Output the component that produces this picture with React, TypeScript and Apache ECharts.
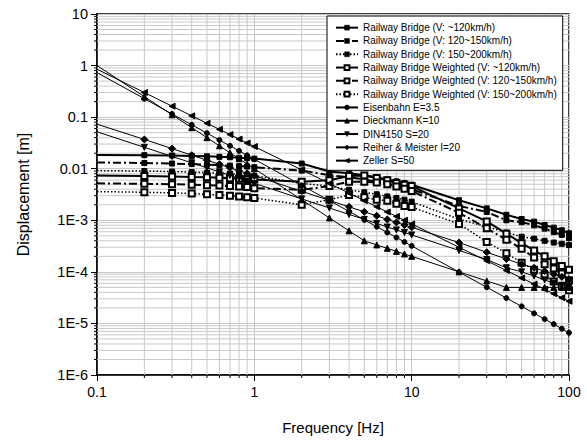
import React, { useEffect, useRef } from "react";
import * as echarts from "echarts";

const freqs = [0.1, 0.2, 0.3, 0.4, 0.5, 0.6, 0.7, 0.8, 0.9, 1, 2, 3, 4, 5, 6, 7, 8, 9, 10, 20, 30, 40, 50, 60, 70, 80, 90, 100];

const bridge120 = [0.0185, 0.0183, 0.018, 0.0177, 0.0174, 0.017, 0.0167, 0.0163, 0.016, 0.0157, 0.0126, 0.0088, 0.0082, 0.0075, 0.0068, 0.0062, 0.0057, 0.0053, 0.0049, 0.00245, 0.0017, 0.00128, 0.00106, 0.00094, 0.00081, 0.00072, 0.00064, 0.00056];
const bridge150 = [0.0132, 0.0129, 0.0126, 0.0123, 0.012, 0.0117, 0.0115, 0.0112, 0.011, 0.0107, 0.0092, 0.0075, 0.0068, 0.0062, 0.0056, 0.0051, 0.0047, 0.0043, 0.004, 0.0019, 0.00145, 0.001, 0.00092, 0.0008, 0.00069, 0.00059, 0.00052, 0.00045];
const bridge200 = [0.0092, 0.009, 0.0088, 0.0086, 0.0084, 0.0082, 0.008, 0.0078, 0.0076, 0.0073, 0.0052, 0.0046, 0.0039, 0.0035, 0.0032, 0.0029, 0.0027, 0.0025, 0.0023, 0.00105, 0.00075, 0.00058, 0.00048, 0.00044, 0.0004, 0.00037, 0.00035, 0.00033];
const weighted120 = [0.0074, 0.0072, 0.0071, 0.0069, 0.0068, 0.0067, 0.0065, 0.0064, 0.0063, 0.0062, 0.0056, 0.006, 0.0072, 0.0074, 0.0066, 0.006, 0.0053, 0.0049, 0.0046, 0.0017, 0.00095, 0.00055, 0.00036, 0.00026, 0.0002, 0.00016, 0.00013, 0.00011];
const weighted150 = [0.0052, 0.0051, 0.005, 0.0049, 0.0048, 0.0047, 0.0046, 0.0045, 0.0044, 0.0042, 0.0039, 0.0046, 0.0056, 0.0056, 0.0054, 0.005, 0.0045, 0.0041, 0.0037, 0.0014, 0.0007, 0.00042, 0.00028, 0.00019, 0.00014, 0.000116, 0.000093, 0.000069];
const weighted200 = [0.0036, 0.0035, 0.0034, 0.0033, 0.0032, 0.0031, 0.003, 0.0029, 0.0028, 0.0027, 0.002, 0.0025, 0.0031, 0.0028, 0.0025, 0.0024, 0.0021, 0.0019, 0.0018, 0.00085, 0.00038, 0.00023, 0.00015, 0.00011, 0.000085, 0.000065, 0.000053, 0.000044];
const eisenbahn = [0.73, 0.228, 0.115, 0.0711, 0.0489, 0.036, 0.0278, 0.0222, 0.0182, 0.01525, 0.00476, 0.00241, 0.00149, 0.00102, 0.000752, 0.00058, 0.000464, 0.00038, 0.000319, 0.000099, 0.0000503, 0.000031, 0.0000214, 0.0000157, 0.0000121, 0.0000097, 0.0000079, 0.0000066];
const dieckmann = [1.0, 0.25, 0.111, 0.0625, 0.04, 0.0278, 0.0204, 0.0156, 0.0123, 0.01, 0.0025, 0.00111, 0.000625, 0.0004, 0.000333, 0.000286, 0.00025, 0.000222, 0.0002, 0.0001, 0.0000667, 0.00005, 0.00005, 0.00005, 0.00005, 0.00005, 0.00005, 0.00005];
const din4150 = [0.052, 0.026, 0.0173, 0.013, 0.0104, 0.0087, 0.0074, 0.0065, 0.0058, 0.0052, 0.0026, 0.00173, 0.0013, 0.00104, 0.00087, 0.00074, 0.00065, 0.00058, 0.00052, 0.00026, 0.000173, 0.00012, 0.0001, 0.000083, 0.00007, 0.00006, 0.000055, 0.00005];
const reiher = [0.073, 0.037, 0.0245, 0.0183, 0.0146, 0.0122, 0.0104, 0.0091, 0.0081, 0.0073, 0.00365, 0.00243, 0.00182, 0.00146, 0.00122, 0.00104, 0.00091, 0.00081, 0.00073, 0.00037, 0.00024, 0.000178, 0.00014, 0.00012, 0.000103, 0.00009, 0.00008, 0.000071];
const zeller = [0.85, 0.3, 0.163, 0.106, 0.076, 0.058, 0.046, 0.0376, 0.0315, 0.0269, 0.0095, 0.0052, 0.00336, 0.0024, 0.00183, 0.00145, 0.00119, 0.001, 0.00085, 0.0003, 0.000164, 0.000106, 0.000076, 0.000058, 0.000046, 0.0000376, 0.0000315, 0.0000269];

const seriesNames = [
  "Railway Bridge (V: ~120km/h)",
  "Railway Bridge (V: 120~150km/h)",
  "Railway Bridge (V: 150~200km/h)",
  "Railway Bridge Weighted (V: ~120km/h)",
  "Railway Bridge Weighted (V: 120~150km/h)",
  "Railway Bridge Weighted (V: 150~200km/h)",
  "Eisenbahn E=3.5",
  "Dieckmann K=10",
  "DIN4150 S=20",
  "Reiher & Meister I=20",
  "Zeller S=50",
];

const xTickLabels = ["0.1", "1", "10", "100"];
const yTickLabels = ["1E-6", "1E-5", "1E-4", "1E-3", "0.01", "0.1", "1", "10"];
const xDecades = [0.1, 1, 10];
const yDecades = [1e-6, 1e-5, 1e-4, 1e-3, 1e-2, 1e-1, 1];
const minorSteps = [2, 3, 4, 5, 6, 7, 8, 9];

const X_MIN = 0.1, X_MAX = 100, Y_MIN = 1e-6, Y_MAX = 10;
const FONT = "'Liberation Sans', Arial, sans-serif";

export default function App() {
  const ref = useRef<HTMLDivElement>(null);
  useEffect(() => {
    if (!ref.current) return;
    const chart = echarts.init(ref.current, null, { renderer: "svg" });
    const zip = (ys: number[]) =>
      freqs.map((f, i) => (i === 0 ? { value: [f, ys[i]], symbol: "none" } : [f, ys[i]]));

    const xMinor: number[] = [];
    xDecades.forEach((d) => minorSteps.forEach((m) => xMinor.push(+(d * m).toPrecision(3))));
    const yMinor: number[] = [];
    yDecades.forEach((d) => minorSteps.forEach((m) => yMinor.push(+(d * m).toPrecision(3))));
    const gridData = [
      ...xMinor.map((v) => [v, Y_MIN, 0]),
      ...yMinor.map((v) => [X_MIN, v, 1]),
    ];

    const gray = "#c8c8c8";
    const gridSeries: any = {
      type: "custom",
      silent: true,
      clip: false,
      z: 1,
      data: gridData,
      encode: { x: 0, y: 1 },
      renderItem: (params: any, api: any) => {
        const kind = api.value(2);
        if (kind === 0) {
          const x = api.value(0);
          const p0 = api.coord([x, Y_MIN]);
          const p1 = api.coord([x, Y_MAX]);
          return {
            type: "group",
            children: [
              { type: "line", shape: { x1: p0[0], y1: p0[1], x2: p1[0], y2: p1[1] }, style: { stroke: gray, lineWidth: 1 } },
              { type: "line", shape: { x1: p0[0], y1: p0[1], x2: p0[0], y2: p0[1] + 3 }, style: { stroke: "#000", lineWidth: 1 } },
            ],
          };
        }
        const y = api.value(1);
        const p0 = api.coord([X_MIN, y]);
        const p1 = api.coord([X_MAX, y]);
        return {
          type: "group",
          children: [
            { type: "line", shape: { x1: p0[0], y1: p0[1], x2: p1[0], y2: p1[1] }, style: { stroke: gray, lineWidth: 1 } },
            { type: "line", shape: { x1: p0[0] - 3, y1: p0[1], x2: p0[0], y2: p0[1] }, style: { stroke: "#000", lineWidth: 1 } },
          ],
        };
      },
    };

    const mk = (name: string, ys: number[], symbol: string, opts: any = {}) => ({
      name,
      type: "line",
      data: zip(ys),
      symbol,
      symbolSize: opts.size ?? 5,
      symbolRotate: opts.rotate ?? 0,
      lineStyle: { color: "#000", width: opts.width ?? 1, type: opts.dash ?? "solid" },
      itemStyle: { color: "#000", borderColor: "#000", borderWidth: 1 },
      emphasis: { disabled: true },
      z: 3,
    });

    const dashDot = [8, 3, 2, 3];
    const dotted = [1.5, 2];

    const option: any = {
      animation: false,
      textStyle: { fontFamily: FONT, color: "#000" },
      grid: { left: 97, right: 18, top: 14, bottom: 65, show: true, borderColor: "#000", borderWidth: 1.5 },
      legend: {
        data: seriesNames,
        orient: "vertical",
        left: 327,
        top: 16,
        backgroundColor: "#fff",
        borderColor: "#000",
        borderWidth: 1,
        borderRadius: 0,
        padding: [5, 6, 3, 8],
        itemGap: 0,
        itemWidth: 22,
        itemHeight: 6,
        itemStyle: { borderWidth: 0.6 },
        textStyle: { fontSize: 10, lineHeight: 13.3, color: "#000", fontFamily: FONT },
      },
      xAxis: {
        type: "log",
        logBase: 10,
        min: X_MIN,
        max: X_MAX,
        interval: 1,
        name: "Frequency [Hz]",
        nameLocation: "middle",
        nameGap: 45,
        nameTextStyle: { fontSize: 15, color: "#000", fontFamily: FONT },
        axisLine: { show: true, lineStyle: { color: "#000", width: 1.5 } },
        axisTick: { show: true, length: 6, lineStyle: { color: "#000", width: 1 } },
        axisLabel: {
          fontSize: 14,
          color: "#000",
          margin: 10,
          fontFamily: FONT,
          formatter: (v: number) => xTickLabels[Math.round(Math.log10(v)) + 1] ?? "",
        },
        splitLine: { show: true, lineStyle: { color: gray, width: 1 } },
      },
      yAxis: {
        type: "log",
        logBase: 10,
        min: Y_MIN,
        max: Y_MAX,
        interval: 1,
        name: "Displacement [m]",
        nameLocation: "middle",
        nameGap: 66,
        nameTextStyle: { fontSize: 16, color: "#000", fontFamily: FONT },
        axisLine: { show: true, lineStyle: { color: "#000", width: 1.5 } },
        axisTick: { show: true, length: 6, lineStyle: { color: "#000", width: 1 } },
        axisLabel: {
          fontSize: 14.5,
          color: "#000",
          margin: 9,
          fontFamily: FONT,
          formatter: (v: number) => yTickLabels[Math.round(Math.log10(v)) + 6] ?? "",
        },
        splitLine: { show: true, lineStyle: { color: gray, width: 1 } },
      },
      series: [
        gridSeries,
        mk(seriesNames[0], bridge120, "rect", { width: 2, size: 5 }),
        mk(seriesNames[1], bridge150, "rect", { width: 2, size: 5, dash: dashDot }),
        mk(seriesNames[2], bridge200, "rect", { width: 1.5, size: 5, dash: dotted }),
        mk(seriesNames[3], weighted120, "emptyRect", { width: 2, size: 6 }),
        mk(seriesNames[4], weighted150, "emptyRect", { width: 2, size: 6, dash: dashDot }),
        mk(seriesNames[5], weighted200, "emptyRect", { width: 1.5, size: 6, dash: dotted }),
        mk(seriesNames[6], eisenbahn, "circle", { size: 5 }),
        mk(seriesNames[7], dieckmann, "triangle", { size: 6 }),
        mk(seriesNames[8], din4150, "triangle", { size: 6, rotate: 180 }),
        mk(seriesNames[9], reiher, "diamond", { size: 7 }),
        mk(seriesNames[10], zeller, "triangle", { size: 6, rotate: 90 }),
      ],
    };
    chart.setOption(option);
    return () => chart.dispose();
  }, []);
  return <div ref={ref} style={{ position: "fixed", left: 0, top: 0, width: 587, height: 440, background: "#fff" }} />;
}
